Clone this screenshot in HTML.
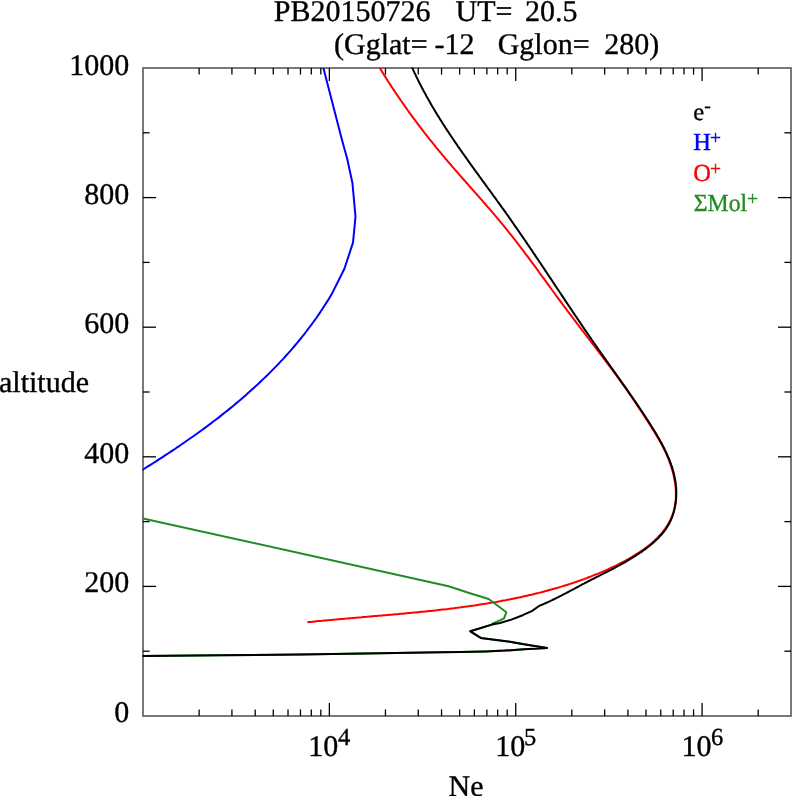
<!DOCTYPE html>
<html><head><meta charset="utf-8"><style>
html,body{margin:0;padding:0;background:#fff;}
svg{display:block;will-change:transform;}
text{font-family:"Liberation Serif", "Times New Roman", serif;text-rendering:geometricPrecision;stroke-width:0.35px;paint-order:stroke;}
</style></head><body>
<svg width="792" height="796" viewBox="0 0 792 796">
<rect width="792" height="796" fill="#fff"/>
<g font-size="30" fill="#000" stroke="#000">
<text x="273.8" y="20.5">PB20150726</text>
<text x="455.5" y="20.5">UT=</text>
<text x="525.1" y="20.5">20.5</text>
<text x="334.0" y="53.5">(Gglat=</text>
<text x="434.4" y="53.5">-12</text>
<text x="497.7" y="53.5">Gglon=</text>
<text x="604.3" y="53.5">280)</text>
</g>
<g font-size="30" fill="#000" stroke="#000" text-anchor="end">
<text x="129.2" y="74.8">1000</text>
<text x="129.2" y="203.6">800</text>
<text x="129.2" y="333.2">600</text>
<text x="129.2" y="462.8">400</text>
<text x="129.2" y="592.4">200</text>
<text x="129.2" y="722.2">0</text>
</g>
<text x="-1.0" y="391.6" font-size="30" stroke="#000">altitude</text>
<g font-size="30" fill="#000" stroke="#000">
<text x="308.3" y="755.5">10</text><text x="338.0" y="744.7" font-size="24.5">4</text>
<text x="495.3" y="755.5">10</text><text x="524.1" y="744.8" font-size="24.5">5</text>
<text x="681.4" y="755.5">10</text><text x="711.1" y="744.5" font-size="24.5">6</text>
</g>
<text x="448.6" y="795.5" font-size="30" stroke="#000">Ne</text>
<g font-size="24.5">
<text x="693.3" y="119.5" fill="#000" stroke="#000">e</text><text x="704.2" y="112.2" font-size="19.5" fill="#000" stroke="#000">-</text>
<text x="693.3" y="150" fill="#0000ff" stroke="#0000ff">H</text><text x="710.1" y="144.0" font-size="19.5" fill="#0000ff" stroke="#0000ff">+</text>
<text x="693.3" y="180.6" fill="#ff0000" stroke="#ff0000">O</text><text x="710.1" y="175.0" font-size="19.5" fill="#ff0000" stroke="#ff0000">+</text>
<text x="693.8" y="210.7" fill="#228b22" stroke="#228b22" textLength="53.4" lengthAdjust="spacingAndGlyphs">&#931;Mol</text><text x="746.9" y="205.2" font-size="19.5" fill="#228b22" stroke="#228b22">+</text>
</g>
<defs><clipPath id="pc"><rect x="142.6" y="67.4" width="648.8" height="649.2"/></clipPath></defs>
<rect x="143" y="68" width="648" height="648" fill="none" stroke="#787878" stroke-width="2"/>
<g stroke="#000" stroke-width="1.3" fill="none">
<line x1="199.10" y1="716.00" x2="199.10" y2="709.40"/>
<line x1="199.10" y1="68.00" x2="199.10" y2="74.60"/>
<line x1="231.92" y1="716.00" x2="231.92" y2="709.40"/>
<line x1="231.92" y1="68.00" x2="231.92" y2="74.60"/>
<line x1="255.20" y1="716.00" x2="255.20" y2="709.40"/>
<line x1="255.20" y1="68.00" x2="255.20" y2="74.60"/>
<line x1="273.26" y1="716.00" x2="273.26" y2="709.40"/>
<line x1="273.26" y1="68.00" x2="273.26" y2="74.60"/>
<line x1="288.02" y1="716.00" x2="288.02" y2="709.40"/>
<line x1="288.02" y1="68.00" x2="288.02" y2="74.60"/>
<line x1="300.49" y1="716.00" x2="300.49" y2="709.40"/>
<line x1="300.49" y1="68.00" x2="300.49" y2="74.60"/>
<line x1="311.30" y1="716.00" x2="311.30" y2="709.40"/>
<line x1="311.30" y1="68.00" x2="311.30" y2="74.60"/>
<line x1="320.83" y1="716.00" x2="320.83" y2="709.40"/>
<line x1="320.83" y1="68.00" x2="320.83" y2="74.60"/>
<line x1="329.36" y1="716.00" x2="329.36" y2="703.00"/>
<line x1="329.36" y1="68.00" x2="329.36" y2="81.00"/>
<line x1="385.46" y1="716.00" x2="385.46" y2="709.40"/>
<line x1="385.46" y1="68.00" x2="385.46" y2="74.60"/>
<line x1="418.28" y1="716.00" x2="418.28" y2="709.40"/>
<line x1="418.28" y1="68.00" x2="418.28" y2="74.60"/>
<line x1="441.56" y1="716.00" x2="441.56" y2="709.40"/>
<line x1="441.56" y1="68.00" x2="441.56" y2="74.60"/>
<line x1="459.62" y1="716.00" x2="459.62" y2="709.40"/>
<line x1="459.62" y1="68.00" x2="459.62" y2="74.60"/>
<line x1="474.38" y1="716.00" x2="474.38" y2="709.40"/>
<line x1="474.38" y1="68.00" x2="474.38" y2="74.60"/>
<line x1="486.85" y1="716.00" x2="486.85" y2="709.40"/>
<line x1="486.85" y1="68.00" x2="486.85" y2="74.60"/>
<line x1="497.66" y1="716.00" x2="497.66" y2="709.40"/>
<line x1="497.66" y1="68.00" x2="497.66" y2="74.60"/>
<line x1="507.19" y1="716.00" x2="507.19" y2="709.40"/>
<line x1="507.19" y1="68.00" x2="507.19" y2="74.60"/>
<line x1="515.72" y1="716.00" x2="515.72" y2="703.00"/>
<line x1="515.72" y1="68.00" x2="515.72" y2="81.00"/>
<line x1="571.82" y1="716.00" x2="571.82" y2="709.40"/>
<line x1="571.82" y1="68.00" x2="571.82" y2="74.60"/>
<line x1="604.64" y1="716.00" x2="604.64" y2="709.40"/>
<line x1="604.64" y1="68.00" x2="604.64" y2="74.60"/>
<line x1="627.92" y1="716.00" x2="627.92" y2="709.40"/>
<line x1="627.92" y1="68.00" x2="627.92" y2="74.60"/>
<line x1="645.98" y1="716.00" x2="645.98" y2="709.40"/>
<line x1="645.98" y1="68.00" x2="645.98" y2="74.60"/>
<line x1="660.74" y1="716.00" x2="660.74" y2="709.40"/>
<line x1="660.74" y1="68.00" x2="660.74" y2="74.60"/>
<line x1="673.22" y1="716.00" x2="673.22" y2="709.40"/>
<line x1="673.22" y1="68.00" x2="673.22" y2="74.60"/>
<line x1="684.02" y1="716.00" x2="684.02" y2="709.40"/>
<line x1="684.02" y1="68.00" x2="684.02" y2="74.60"/>
<line x1="693.56" y1="716.00" x2="693.56" y2="709.40"/>
<line x1="693.56" y1="68.00" x2="693.56" y2="74.60"/>
<line x1="702.08" y1="716.00" x2="702.08" y2="703.00"/>
<line x1="702.08" y1="68.00" x2="702.08" y2="81.00"/>
<line x1="758.18" y1="716.00" x2="758.18" y2="709.40"/>
<line x1="758.18" y1="68.00" x2="758.18" y2="74.60"/>
<line x1="143.00" y1="651.20" x2="149.60" y2="651.20"/>
<line x1="791.00" y1="651.20" x2="784.40" y2="651.20"/>
<line x1="143.00" y1="586.40" x2="156.00" y2="586.40"/>
<line x1="791.00" y1="586.40" x2="778.00" y2="586.40"/>
<line x1="143.00" y1="521.60" x2="149.60" y2="521.60"/>
<line x1="791.00" y1="521.60" x2="784.40" y2="521.60"/>
<line x1="143.00" y1="456.80" x2="156.00" y2="456.80"/>
<line x1="791.00" y1="456.80" x2="778.00" y2="456.80"/>
<line x1="143.00" y1="392.00" x2="149.60" y2="392.00"/>
<line x1="791.00" y1="392.00" x2="784.40" y2="392.00"/>
<line x1="143.00" y1="327.20" x2="156.00" y2="327.20"/>
<line x1="791.00" y1="327.20" x2="778.00" y2="327.20"/>
<line x1="143.00" y1="262.40" x2="149.60" y2="262.40"/>
<line x1="791.00" y1="262.40" x2="784.40" y2="262.40"/>
<line x1="143.00" y1="197.60" x2="156.00" y2="197.60"/>
<line x1="791.00" y1="197.60" x2="778.00" y2="197.60"/>
<line x1="143.00" y1="132.80" x2="149.60" y2="132.80"/>
<line x1="791.00" y1="132.80" x2="784.40" y2="132.80"/>
</g>
<g fill="none" stroke-width="2.0" stroke-linejoin="round" stroke-linecap="butt" clip-path="url(#pc)">
<polyline stroke="#0000ff" points="323.4,68.0 342.0,140.0 347.2,158.8 352.4,182.7 355.5,216.6 353.0,242.6 344.4,268.8 331.6,294.4 329.7,297.4 327.9,300.4 326.0,303.4 324.1,306.3 322.2,309.3 320.2,312.2 318.3,315.1 316.3,318.0 314.2,320.8 312.2,323.7 310.1,326.5 308.0,329.2 305.9,332.0 303.7,334.8 301.6,337.5 299.4,340.2 297.2,342.9 294.9,345.5 292.7,348.2 290.4,350.8 288.1,353.4 285.7,356.0 283.4,358.6 281.0,361.1 278.7,363.6 276.3,366.1 273.8,368.6 271.4,371.1 268.9,373.6 266.5,376.0 264.0,378.4 261.4,380.8 258.9,383.2 256.4,385.6 253.8,387.9 251.2,390.3 248.6,392.6 246.0,394.9 243.4,397.2 240.8,399.4 238.1,401.7 235.4,403.9 232.8,406.2 230.1,408.4 227.4,410.6 224.6,412.7 221.9,414.9 219.2,417.1 216.4,419.2 213.6,421.3 210.9,423.4 208.1,425.5 205.3,427.6 202.4,429.7 199.6,431.7 196.8,433.8 194.0,435.8 191.1,437.8 188.2,439.8 185.4,441.8 182.5,443.8 179.6,445.8 176.7,447.7 173.8,449.7 170.9,451.6 168.0,453.5 165.1,455.4 162.2,457.3 159.3,459.2 156.4,461.1 153.4,463.0 150.5,464.8 147.5,466.7 144.6,468.5 141.7,470.4 138.7,472.2 135.7,474.0 132.8,475.8 129.8,477.6"/>
<polyline stroke="#ff0000" points="379.1,66.8 380.1,68.4 381.1,70.0 382.0,71.6 383.0,73.2 384.0,74.8 385.0,76.4 386.0,78.0 387.0,79.6 388.0,81.2 389.1,82.8 390.1,84.4 391.1,85.9 392.1,87.5 393.2,89.1 394.2,90.6 395.3,92.2 396.3,93.8 397.4,95.3 398.4,96.9 399.5,98.4 400.5,100.0 401.6,101.5 402.7,103.1 403.8,104.6 404.8,106.2 405.9,107.7 407.0,109.2 408.1,110.8 409.2,112.3 410.3,113.8 411.4,115.3 412.5,116.8 413.6,118.4 414.8,119.9 415.9,121.4 417.0,122.9 418.1,124.4 419.3,125.9 420.4,127.4 421.6,128.9 422.7,130.4 423.8,131.9 425.0,133.4 426.2,134.8 427.3,136.3 428.5,137.8 429.6,139.3 430.8,140.7 432.0,142.2 433.2,143.7 434.4,145.1 435.5,146.6 436.7,148.1 437.9,149.5 439.1,151.0 440.3,152.4 441.5,153.9 442.7,155.3 443.9,156.7 445.1,158.2 446.4,159.6 447.6,161.1 448.8,162.5 450.0,163.9 451.3,165.3 452.5,166.8 453.7,168.2 454.9,169.6 456.2,171.0 457.4,172.4 458.7,173.9 459.9,175.3 461.1,176.7 462.4,178.1 463.6,179.5 464.9,180.9 466.1,182.3 467.4,183.7 468.6,185.2 469.9,186.6 471.1,188.0 472.3,189.4 473.6,190.8 474.8,192.2 476.1,193.6 477.3,195.0 478.6,196.4 479.8,197.9 481.1,199.3 482.3,200.7 483.5,202.1 484.8,203.5 486.0,204.9 487.2,206.3 488.5,207.8 489.7,209.2 490.9,210.6 492.2,212.0 493.4,213.5 494.6,214.9 495.8,216.3 497.0,217.8 498.2,219.2 499.4,220.6 500.6,222.1 501.8,223.5 503.0,225.0 504.2,226.4 505.4,227.9 506.6,229.4 507.8,230.8 508.9,232.3 510.1,233.8 511.3,235.2 512.4,236.7 513.6,238.2 514.8,239.7 515.9,241.1 517.1,242.6 518.2,244.1 519.3,245.6 520.5,247.1 521.6,248.6 522.8,250.1 523.9,251.6 525.0,253.1 526.1,254.6 527.3,256.1 528.4,257.6 529.5,259.1 530.6,260.6 531.7,262.1 532.9,263.7 534.0,265.2 535.1,266.7 536.2,268.2 537.3,269.7 538.4,271.2 539.5,272.8 540.6,274.3 541.7,275.8 542.9,277.3 544.0,278.8 545.1,280.4 546.2,281.9 547.3,283.4 548.4,284.9 549.5,286.4 550.6,288.0 551.7,289.5 552.8,291.0 553.9,292.5 555.0,294.0 556.1,295.6 557.3,297.1 558.4,298.6 559.5,300.1 560.6,301.6 561.7,303.1 562.8,304.7 563.9,306.2 565.1,307.7 566.2,309.2 567.3,310.7 568.4,312.2 569.6,313.7 570.7,315.2 571.8,316.7 573.0,318.2 574.1,319.7 575.3,321.2 576.4,322.7 577.5,324.2 578.7,325.7 579.8,327.2 581.0,328.7 582.1,330.2 583.3,331.7 584.4,333.2 585.5,334.7 586.7,336.2 587.8,337.7 589.0,339.2 590.1,340.7 591.3,342.1 592.4,343.6 593.6,345.1 594.7,346.6 595.9,348.1 597.0,349.6 598.2,351.1 599.3,352.6 600.4,354.1 601.6,355.6 602.7,357.1 603.8,358.6 605.0,360.1 606.1,361.6 607.2,363.1 608.4,364.6 609.5,366.1 610.6,367.6 611.8,369.1 612.9,370.7 614.0,372.2 615.1,373.7 616.2,375.2 617.3,376.7 618.4,378.3 619.5,379.8 620.6,381.3 621.7,382.8 622.8,384.4 623.9,385.9 625.0,387.4 626.1,389.0 627.2,390.5 628.2,392.1 629.3,393.6 630.4,395.2 631.5,396.7 632.5,398.3 633.6,399.8 634.6,401.4 635.7,402.9 636.7,404.5 637.8,406.1 638.8,407.6 639.8,409.2 640.9,410.8 641.9,412.3 642.9,413.9 643.9,415.5 645.0,417.1 646.0,418.6 647.0,420.2 648.0,421.8 649.0,423.4 650.0,424.9 651.0,426.5 652.0,428.1 653.0,429.7 654.0,431.3 655.0,432.9 655.9,434.5 656.9,436.1 657.8,437.7 658.8,439.3 659.7,440.9 660.6,442.5 661.5,444.2 662.4,445.9 663.2,447.5 664.1,449.2 664.9,450.9 665.7,452.6 666.5,454.4 667.2,456.1 668.0,457.9 668.7,459.7 669.4,461.5 670.0,463.3 670.7,465.1 671.3,466.9 671.8,468.8 672.4,470.6 672.9,472.5 673.4,474.3 673.8,476.2 674.2,478.0 674.5,479.9 674.9,481.8 675.2,483.7 675.4,485.5 675.6,487.4 675.8,489.3 675.9,491.1 675.9,493.0 675.9,494.9 675.9,496.7 675.8,498.6 675.7,500.4 675.5,502.2 675.3,504.0 675.0,505.8 674.6,507.6 674.2,509.3 673.8,511.1 673.3,512.8 672.7,514.5 672.0,516.2 671.3,517.9 670.6,519.6 669.7,521.2 668.9,522.8 667.9,524.4 667.0,526.0 665.9,527.5 664.9,529.1 663.7,530.6 662.6,532.0 661.4,533.5 660.1,534.9 658.8,536.3 657.5,537.7 656.1,539.0 654.8,540.4 653.4,541.7 651.9,542.9 650.4,544.2 649.0,545.4 647.5,546.6 645.9,547.8 644.4,548.9 642.8,550.0 641.2,551.1 639.7,552.1 638.1,553.2 636.4,554.2 634.8,555.2 633.2,556.2 631.5,557.2 629.9,558.1 628.2,559.1 626.5,560.0 624.9,560.9 623.2,561.8 621.5,562.7 619.8,563.5 618.2,564.4 616.5,565.3 614.8,566.1 613.1,566.9 611.4,567.7 609.6,568.5 607.9,569.3 606.2,570.1 604.5,570.9 602.8,571.6 601.0,572.4 599.3,573.1 597.6,573.8 595.8,574.5 594.1,575.2 592.3,575.9 590.6,576.6 588.8,577.3 587.1,578.0 585.3,578.6 583.6,579.3 581.8,579.9 580.0,580.5 578.3,581.1 576.5,581.8 574.7,582.4 572.9,583.0 571.2,583.5 569.4,584.1 567.6,584.7 565.8,585.3 564.0,585.8 562.2,586.4 560.4,586.9 558.6,587.5 556.8,588.0 555.0,588.5 553.2,589.0 551.4,589.5 549.6,590.0 547.8,590.5 546.0,591.0 544.2,591.5 542.4,592.0 540.6,592.4 538.7,592.9 536.9,593.3 535.1,593.8 533.3,594.2 531.5,594.7 529.6,595.1 527.8,595.5 526.0,595.9 524.1,596.3 522.3,596.8 520.5,597.2 518.6,597.5 516.8,597.9 515.0,598.3 513.1,598.7 511.3,599.1 509.4,599.4 507.6,599.8 505.7,600.2 503.9,600.5 502.0,600.8 500.2,601.2 498.3,601.5 496.5,601.9 494.6,602.2 492.8,602.5 490.9,602.8 489.1,603.1 487.2,603.4 485.3,603.7 483.5,604.0 481.6,604.3 479.7,604.6 477.9,604.9 476.0,605.2 474.2,605.5 472.3,605.7 470.4,606.0 468.5,606.3 466.7,606.5 464.8,606.8 462.9,607.0 461.1,607.3 459.2,607.5 457.3,607.8 455.4,608.0 453.6,608.3 451.7,608.5 449.8,608.7 447.9,609.0 446.1,609.2 444.2,609.4 442.3,609.6 440.4,609.8 438.5,610.0 436.7,610.3 434.8,610.5 432.9,610.7 431.0,610.9 429.1,611.1 427.3,611.3 425.4,611.5 423.5,611.7 421.6,611.8 419.7,612.0 417.8,612.2 416.0,612.4 414.1,612.6 412.2,612.8 410.3,613.0 408.4,613.1 406.5,613.3 404.7,613.5 402.8,613.7 400.9,613.8 399.0,614.0 397.1,614.2 395.2,614.3 393.4,614.5 391.5,614.7 389.6,614.8 387.7,615.0 385.8,615.2 383.9,615.3 382.1,615.5 380.2,615.7 378.3,615.8 376.4,616.0 374.5,616.1 372.7,616.3 370.8,616.5 368.9,616.6 367.0,616.8 365.1,616.9 363.3,617.1 361.4,617.3 359.5,617.4 357.6,617.6 355.8,617.7 353.9,617.9 352.0,618.1 350.1,618.2 348.3,618.4 346.4,618.6 344.5,618.7 342.7,618.9 340.8,619.0 338.9,619.2 337.1,619.4 335.2,619.6 333.3,619.7 331.5,619.9 329.6,620.1 327.7,620.2 325.9,620.4 324.0,620.6 322.2,620.8 320.3,620.9 318.4,621.1 316.6,621.3 314.7,621.5 312.9,621.7 311.0,621.9 309.2,622.1 307.3,622.3"/>
<polyline stroke="#228b22" points="130.0,515.5 143.0,518.4 448.6,586.2 470.0,593.2 488.7,599.0 506.4,612.2 503.9,618.6 492.8,623.4 491.8,624.6 470.3,631.3 480.8,637.9 509.9,641.8 523.9,644.3 547.0,648.0 523.9,649.2 505.0,650.6 485.3,651.4 460.0,651.9 440.0,652.2 380.0,653.3 300.0,654.4 220.0,655.3 143.0,656.1 130.0,656.2"/>
<polyline stroke="#000000" points="411.8,66.8 412.4,68.1 413.0,69.3 413.5,70.6 414.1,71.9 414.7,73.2 415.3,74.4 415.9,75.7 416.5,77.0 417.2,78.2 417.8,79.5 418.4,80.7 419.0,82.0 419.6,83.2 420.3,84.5 420.9,85.7 421.6,87.0 422.2,88.2 422.9,89.4 423.5,90.7 424.2,91.9 424.8,93.1 425.5,94.3 426.2,95.6 426.8,96.8 427.5,98.0 428.2,99.2 428.9,100.4 429.6,101.6 430.2,102.8 430.9,104.0 431.6,105.2 432.3,106.4 433.0,107.6 433.7,108.8 434.5,110.0 435.2,111.2 435.9,112.4 436.6,113.6 437.3,114.7 438.0,115.9 438.8,117.1 439.5,118.3 440.2,119.4 441.0,120.6 441.7,121.8 442.4,123.0 443.2,124.1 443.9,125.3 444.7,126.4 445.4,127.6 446.2,128.8 446.9,129.9 447.7,131.1 448.5,132.2 449.2,133.4 450.0,134.5 450.8,135.7 451.5,136.8 452.3,138.0 453.1,139.1 453.8,140.3 454.6,141.4 455.4,142.6 456.2,143.7 457.0,144.8 457.7,146.0 458.5,147.1 459.3,148.2 460.1,149.4 460.9,150.5 461.7,151.6 462.5,152.8 463.3,153.9 464.1,155.0 464.9,156.2 465.7,157.3 466.5,158.4 467.3,159.5 468.1,160.7 468.9,161.8 469.7,162.9 470.5,164.0 471.3,165.2 472.1,166.3 472.9,167.4 473.7,168.5 474.5,169.6 475.3,170.8 476.1,171.9 477.0,173.0 477.8,174.1 478.6,175.2 479.4,176.4 480.2,177.5 481.0,178.6 481.8,179.7 482.6,180.8 483.5,181.9 484.3,183.1 485.1,184.2 485.9,185.3 486.7,186.4 487.5,187.5 488.3,188.6 489.2,189.8 490.0,190.9 490.8,192.0 491.6,193.1 492.4,194.2 493.2,195.4 494.0,196.5 494.9,197.6 495.7,198.7 496.5,199.8 497.3,201.0 498.1,202.1 498.9,203.2 499.7,204.3 500.5,205.4 501.3,206.6 502.1,207.7 503.0,208.8 503.8,209.9 504.6,211.1 505.4,212.2 506.2,213.3 507.0,214.5 507.8,215.6 508.6,216.7 509.4,217.9 510.2,219.0 511.0,220.1 511.8,221.3 512.6,222.4 513.3,223.5 514.1,224.7 514.9,225.8 515.7,226.9 516.5,228.1 517.3,229.2 518.1,230.4 518.9,231.5 519.7,232.6 520.4,233.8 521.2,234.9 522.0,236.1 522.8,237.2 523.6,238.4 524.4,239.5 525.2,240.6 525.9,241.8 526.7,242.9 527.5,244.1 528.3,245.2 529.1,246.4 529.8,247.5 530.6,248.7 531.4,249.8 532.2,251.0 532.9,252.1 533.7,253.3 534.5,254.4 535.3,255.6 536.0,256.7 536.8,257.9 537.6,259.0 538.4,260.2 539.1,261.3 539.9,262.5 540.7,263.6 541.4,264.8 542.2,265.9 543.0,267.1 543.8,268.2 544.5,269.4 545.3,270.6 546.1,271.7 546.8,272.9 547.6,274.0 548.4,275.2 549.2,276.3 549.9,277.5 550.7,278.6 551.5,279.8 552.2,280.9 553.0,282.1 553.8,283.2 554.5,284.4 555.3,285.6 556.1,286.7 556.8,287.9 557.6,289.0 558.4,290.2 559.1,291.3 559.9,292.5 560.7,293.6 561.4,294.8 562.2,295.9 563.0,297.1 563.8,298.3 564.5,299.4 565.3,300.6 566.1,301.7 566.8,302.9 567.6,304.0 568.4,305.2 569.1,306.3 569.9,307.5 570.7,308.6 571.5,309.8 572.2,310.9 573.0,312.1 573.8,313.2 574.5,314.4 575.3,315.5 576.1,316.7 576.9,317.8 577.6,319.0 578.4,320.1 579.2,321.3 580.0,322.4 580.7,323.6 581.5,324.7 582.3,325.9 583.1,327.0 583.8,328.1 584.6,329.3 585.4,330.4 586.2,331.6 587.0,332.7 587.7,333.9 588.5,335.0 589.3,336.1 590.1,337.3 590.9,338.4 591.6,339.6 592.4,340.7 593.2,341.8 594.0,343.0 594.8,344.1 595.6,345.2 596.4,346.4 597.2,347.5 597.9,348.6 598.7,349.8 599.5,350.9 600.3,352.0 601.1,353.2 601.9,354.3 602.7,355.4 603.5,356.5 604.3,357.7 605.1,358.8 605.9,359.9 606.7,361.1 607.5,362.2 608.3,363.3 609.1,364.4 609.9,365.5 610.7,366.7 611.5,367.8 612.3,368.9 613.1,370.0 613.9,371.2 614.7,372.3 615.5,373.4 616.3,374.5 617.1,375.7 617.9,376.8 618.7,377.9 619.5,379.0 620.3,380.2 621.1,381.3 621.9,382.4 622.7,383.6 623.5,384.7 624.3,385.8 625.1,386.9 625.9,388.1 626.7,389.2 627.5,390.3 628.3,391.5 629.0,392.6 629.8,393.7 630.6,394.9 631.4,396.0 632.2,397.2 633.0,398.3 633.8,399.5 634.6,400.6 635.4,401.7 636.2,402.9 636.9,404.0 637.7,405.2 638.5,406.4 639.3,407.5 640.1,408.7 640.8,409.8 641.6,411.0 642.4,412.2 643.2,413.3 643.9,414.5 644.7,415.7 645.5,416.8 646.2,418.0 647.0,419.2 647.8,420.4 648.5,421.5 649.3,422.7 650.0,423.9 650.8,425.1 651.5,426.3 652.3,427.5 653.0,428.7 653.8,429.9 654.5,431.1 655.3,432.3 656.0,433.5 656.7,434.7 657.4,436.0 658.1,437.2 658.8,438.4 659.5,439.6 660.2,440.9 660.9,442.1 661.6,443.3 662.2,444.6 662.9,445.8 663.5,447.1 664.2,448.3 664.8,449.6 665.4,450.8 666.0,452.1 666.6,453.3 667.1,454.6 667.7,455.9 668.2,457.1 668.8,458.4 669.3,459.7 669.8,461.0 670.3,462.3 670.8,463.6 671.2,464.8 671.7,466.1 672.1,467.4 672.5,468.8 672.9,470.1 673.2,471.4 673.6,472.7 673.9,474.0 674.2,475.3 674.5,476.7 674.8,478.0 675.0,479.3 675.3,480.7 675.5,482.0 675.7,483.4 675.8,484.7 676.0,486.1 676.1,487.4 676.2,488.8 676.2,490.2 676.3,491.5 676.3,492.9 676.3,494.3 676.2,495.7 676.2,497.0 676.1,498.4 676.0,499.8 675.8,501.2 675.7,502.5 675.5,503.9 675.2,505.3 675.0,506.6 674.7,508.0 674.4,509.4 674.1,510.7 673.7,512.0 673.3,513.4 672.9,514.7 672.5,516.0 672.0,517.3 671.5,518.5 671.0,519.8 670.4,521.0 669.8,522.3 669.2,523.5 668.5,524.7 667.8,525.9 667.1,527.0 666.4,528.2 665.6,529.3 664.8,530.4 664.0,531.5 663.1,532.6 662.3,533.6 661.4,534.7 660.4,535.7 659.5,536.7 658.5,537.7 657.6,538.7 656.6,539.6 655.6,540.6 654.5,541.5 653.5,542.5 652.4,543.4 651.4,544.3 650.3,545.2 649.2,546.0 648.1,546.9 647.0,547.8 645.9,548.6 644.8,549.4 643.6,550.3 642.5,551.1 641.4,551.9 640.2,552.7 639.1,553.4 637.9,554.2 636.7,555.0 635.6,555.8 634.4,556.5 633.2,557.2 632.0,558.0 630.8,558.7 629.6,559.4 628.4,560.2 627.2,560.9 626.0,561.6 624.8,562.3 623.6,563.0 622.4,563.6 621.1,564.3 619.9,565.0 618.7,565.7 617.4,566.3 616.2,567.0 615.0,567.7 613.7,568.3 612.5,569.0 611.3,569.6 610.0,570.3 608.8,570.9 607.5,571.5 606.3,572.2 605.0,572.8 603.8,573.4 602.5,574.1 601.3,574.7 600.0,575.3 598.8,576.0 597.6,576.6 596.3,577.2 595.1,577.9 593.8,578.5 592.6,579.1 591.3,579.7 590.1,580.4 588.9,581.0 587.6,581.7 586.4,582.3 585.2,582.9 584.0,583.6 582.7,584.2 581.5,584.9 580.3,585.5 579.1,586.2 577.9,586.8 576.6,587.5 575.4,588.1 574.2,588.8 573.0,589.4 571.8,590.1 570.6,590.7 569.4,591.3 568.1,592.0 566.9,592.6 565.7,593.3 564.5,593.9 563.3,594.5 562.1,595.2 560.8,595.8 559.6,596.4 558.4,597.1 557.1,597.7 555.9,598.3 554.7,598.9 553.4,599.5 552.2,600.1 550.9,600.7 549.7,601.3 548.4,601.9 547.1,602.5 545.8,603.0 544.6,603.6 543.3,604.2 542.0,604.7 540.7,605.3 539.4,605.8 531.8,611.1 522.7,615.2 511.4,619.6 500.0,623.0 491.8,624.6 470.3,631.3 480.8,637.9 509.9,641.8 523.9,644.3 547.0,648.0 523.9,649.2 505.0,650.6 485.3,651.4 460.0,651.9 440.0,652.2 380.0,653.3 300.0,654.4 220.0,655.3 143.0,656.1 130.0,656.2"/>
</g>
</svg>
</body></html>
